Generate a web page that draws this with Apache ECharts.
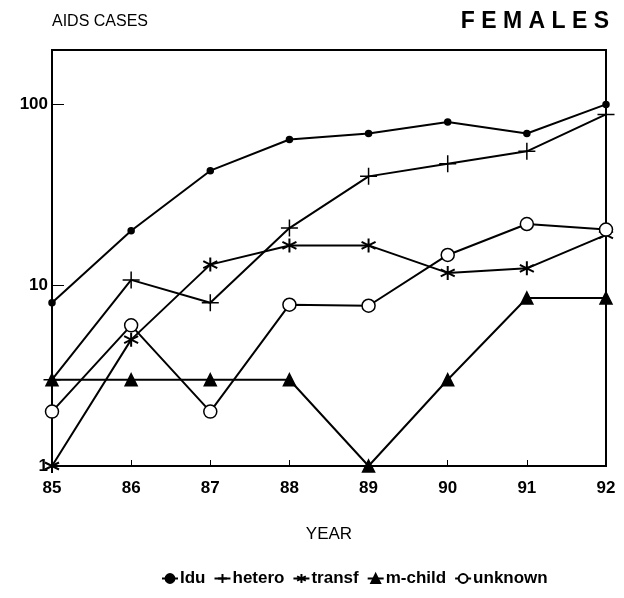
<!DOCTYPE html>
<html>
<head>
<meta charset="utf-8">
<script src="https://cdn.jsdelivr.net/npm/echarts@6/dist/echarts.min.js"></script>
<style>
  html, body { margin: 0; padding: 0; background: #fff; }
  #chart { width: 624px; height: 598px; }
</style>
</head>
<body>
<div id="chart"></div>
<script>
// 年份
var years = ["85", "86", "87", "88", "89", "90", "91", "92"];
// 各类病例数（对数坐标）
var idu = [8, 20, 43, 64, 69, 80, 69, 100];
var hetero = [3, 10.7, 8, 20.7, 40, 47, 55, 88];
var transf = [1, 5, 13, 16.6, 16.6, 11.7, 12.4, 19];
var mchild = [3, 3, 3, 3, 1, 3, 8.5, 8.5];
var unknown = [2, 6, 2, 7.8, 7.7, 14.7, 21.8, 20.3];
var yTicks = [1, 10, 100];

var sans = "'Liberation Sans', Arial, sans-serif";

var plusPath = "path://M0,5L10,5M5,0L5,10";
var starPath = "path://M5,0L5,10M0.7,2.5L9.3,7.5M0.7,7.5L9.3,2.5";

function makeSeries(name, data, symbol, size, extra) {
  return Object.assign({
    name: name,
    type: "line",
    data: data,
    symbol: symbol,
    symbolSize: size,
    showAllSymbol: true,
    lineStyle: { color: "#000", width: 2 },
    itemStyle: { color: "#000", borderColor: "#000", borderWidth: 1.5 },
    emphasis: { disabled: true }
  }, extra || {});
}

var chart = echarts.init(document.getElementById("chart"));
chart.setOption({
  animation: false,
  backgroundColor: "#fff",
  title: [
    {
      text: "AIDS CASES",
      left: 47, top: 9,
      textStyle: { fontFamily: sans, fontSize: 16, fontWeight: "normal", color: "#000" }
    },
    {
      text: "F E M A L E S",
      right: 10, top: 5,
      textStyle: { fontFamily: sans, fontSize: 23, fontWeight: "bold", color: "#000" }
    }
  ],
  grid: {
    left: 52, right: 18, top: 50, bottom: 132,
    show: true, borderColor: "#000", borderWidth: 2
  },
  legend: {
    bottom: 6,
    left: 156,
    itemWidth: 16,
    itemHeight: 11,
    itemGap: 8,
    textStyle: { fontFamily: sans, fontSize: 17, fontWeight: "bold", color: "#000", padding: [0, 0, 0, -3] },
    data: ["Idu", "hetero", "transf", "m-child", "unknown"]
  },
  xAxis: {
    type: "category",
    data: years,
    boundaryGap: false,
    name: "YEAR",
    nameLocation: "middle",
    nameGap: 60,
    nameTextStyle: { fontFamily: sans, fontSize: 17, color: "#000" },
    axisLine: { lineStyle: { color: "#000", width: 2 } },
    axisTick: { inside: true, length: 6, lineStyle: { color: "#000" } },
    axisLabel: { fontFamily: sans, fontSize: 17, fontWeight: "bold", color: "#000", margin: 14 },
    splitLine: { show: false }
  },
  yAxis: {
    type: "log",
    logBase: 10,
    min: 1,
    max: 200,
    axisLine: { show: true, lineStyle: { color: "#000", width: 2 } },
    axisTick: { show: true, inside: true, length: 12, lineStyle: { color: "#000" } },
    axisLabel: {
      fontFamily: sans, fontSize: 17, fontWeight: "bold", color: "#000", margin: 4,
      showMaxLabel: false,
      formatter: function (v) {
        return yTicks.indexOf(Math.round(v)) >= 0 && Math.abs(v - Math.round(v)) < 1e-6 ? String(Math.round(v)) : "";
      }
    },
    splitLine: { show: false }
  },
  series: [
    makeSeries("Idu", idu, "circle", 6),
    makeSeries("hetero", hetero, plusPath, 17, { itemStyle: { color: "none", borderColor: "#000", borderWidth: 1.5 } }),
    makeSeries("transf", transf, starPath, 14, { itemStyle: { color: "none", borderColor: "#000", borderWidth: 2 } }),
    makeSeries("m-child", mchild, "triangle", 12),
    makeSeries("unknown", unknown, "circle", 13, { itemStyle: { color: "#fff", borderColor: "#000", borderWidth: 1.5 } })
  ]
});
</script>
</body>
</html>
